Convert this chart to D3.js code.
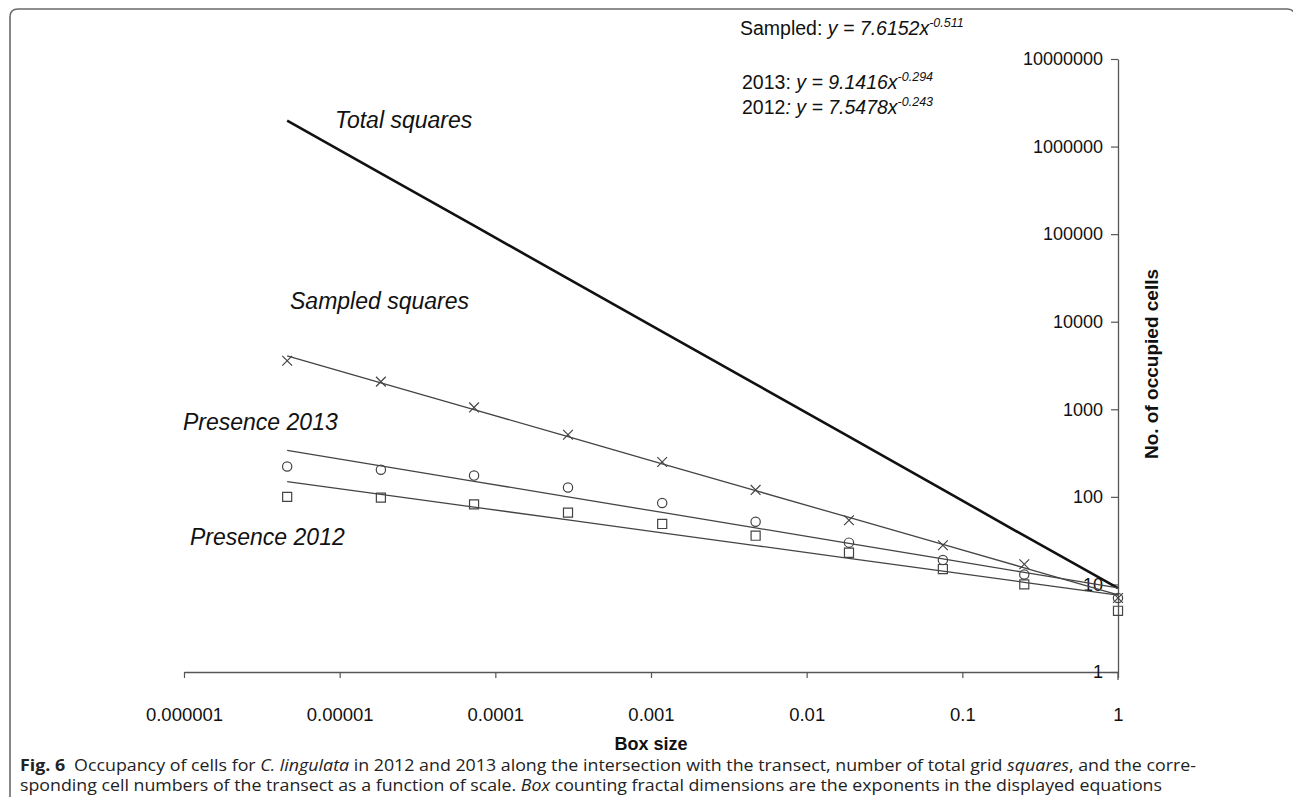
<!DOCTYPE html>
<html>
<head>
<meta charset="utf-8">
<script src="https://cdn.jsdelivr.net/npm/d3@7"></script>
<style>
  html, body { margin: 0; padding: 0; background: #fff; }
  svg { display: block; }
  .chart-text { font-family: "Liberation Sans", Arial, Helvetica, sans-serif; fill: #111; }
  .caption { font-family: "Open Sans", "Noto Sans", sans-serif; fill: #222; font-size: 15.5px; }
</style>
</head>
<body>
<svg id="fig" width="1293" height="797"></svg>
<script>
// Box sizes (fraction of transect) and cell counts at each scale
const boxSizes = [4.6e-6, 1.84e-5, 7.3e-5, 2.93e-4, 1.18e-3, 4.7e-3, 0.0187, 0.075, 0.25, 1];
const totalSquares = [1980000, 495000, 125000, 31000, 7700, 1940, 487, 121, 36, 9.1];
const sampledSquares = [3580, 2070, 1050, 512, 250, 120, 54, 28, 17, 7];
const presence2013 = [222, 204, 175, 128, 85, 52, 30, 19, 13, 7];
const presence2012 = [100, 98, 82, 66, 49, 36, 23, 15, 10, 5];

// Power-law fits y = a * x^b
const fitNames = ["Sampled", "2013", "2012"];
const fitCoef = [7.6152, 9.1416, 7.5478];
const fitExp = [-0.511, -0.294, -0.243];

const xTickValues = [1e-6, 1e-5, 1e-4, 1e-3, 1e-2, 1e-1, 1];
const xTickLabels = ["0.000001", "0.00001", "0.0001", "0.001", "0.01", "0.1", "1"];
const yTickValues = [1, 10, 100, 1000, 10000, 100000, 1000000, 10000000];
const yTickLabels = ["1", "10", "100", "1000", "10000", "100000", "1000000", "10000000"];

const svg = d3.select("#fig");

// frame around the figure (rounded top-left corner)
svg.append("path")
  .attr("d", "M10,797 L10,17 Q10,9 18,9 L1287,9 Q1293,9 1295,14")
  .attr("fill", "none").attr("stroke", "#6a6a6a").attr("stroke-width", 1.6);

const x = d3.scaleLog().domain([1e-6, 1]).range([184, 1118]);
const y = d3.scaleLog().domain([1, 1e7]).range([672, 59]);

const plot = svg.append("g").attr("class", "chart-text");

// x axis
const xAxis = d3.axisBottom(x)
  .tickValues(xTickValues)
  .tickFormat((d, i) => xTickLabels[i])
  .tickSizeInner(6).tickSizeOuter(0).tickPadding(30);
const gx = plot.append("g").attr("transform", `translate(0,${y(1)})`).call(xAxis);
gx.select(".domain").attr("stroke", "#555").attr("stroke-width", 1.3);
gx.selectAll(".tick line").attr("stroke", "#555").attr("stroke-width", 1.2);
gx.selectAll(".tick text").attr("font-size", 18.5).attr("font-family", "Liberation Sans, Arial, sans-serif").attr("fill", "#111");

// y axis on the right edge of the plot, ticks pointing left
const yAxis = d3.axisLeft(y)
  .tickValues(yTickValues)
  .tickFormat((d, i) => yTickLabels[i])
  .tickSizeInner(7).tickSizeOuter(0).tickPadding(8);
const gy = plot.append("g").attr("transform", `translate(${x(1)},0)`).call(yAxis);
gy.select(".domain").attr("stroke", "#555").attr("stroke-width", 1.3);
gy.selectAll(".tick line").attr("stroke", "#555").attr("stroke-width", 1.2);
gy.selectAll(".tick text").attr("font-size", 18).attr("font-family", "Liberation Sans, Arial, sans-serif").attr("fill", "#111");
// axis line continues a little below the x axis
plot.append("line").attr("x1", x(1)).attr("x2", x(1)).attr("y1", y(1)).attr("y2", y(1) + 8)
  .attr("stroke", "#555").attr("stroke-width", 1.3);

// axis titles
plot.append("text").attr("x", (x(1e-6) + x(1)) / 2).attr("y", 750)
  .attr("text-anchor", "middle").attr("font-size", 18).attr("font-weight", "bold").text("Box size");
plot.append("text").attr("transform", `translate(1158,364) rotate(-90)`)
  .attr("text-anchor", "middle").attr("font-size", 19).attr("font-weight", "bold").text("No. of occupied cells");

const line = d3.line().x(d => x(d[0])).y(d => y(d[1]));

// total grid squares
plot.append("path")
  .datum(boxSizes.map((b, i) => [b, totalSquares[i]]))
  .attr("d", line).attr("fill", "none").attr("stroke", "#111").attr("stroke-width", 2.6);

// fitted power-law trend lines
fitCoef.forEach((a, k) => {
  const pts = boxSizes.map(b => [b, a * Math.pow(b, fitExp[k])]);
  plot.append("path").datum(pts).attr("d", line)
    .attr("fill", "none").attr("stroke", "#444").attr("stroke-width", 1.3);
});

// markers
const markerStroke = "#444";
const sym = {
  cross: d3.symbol().type(d3.symbolX).size(64),
  circle: d3.symbol().type(d3.symbolCircle).size(68),
  square: d3.symbol().type(d3.symbolSquare).size(82)
};
function drawMarkers(values, gen) {
  plot.append("g").selectAll("path")
    .data(boxSizes.map((b, i) => [b, values[i]]))
    .join("path")
    .attr("transform", d => `translate(${x(d[0])},${y(d[1])})`)
    .attr("d", gen)
    .attr("fill", "none").attr("stroke", markerStroke).attr("stroke-width", 1.2);
}
drawMarkers(sampledSquares, sym.cross);
drawMarkers(presence2013, sym.circle);
drawMarkers(presence2012, sym.square);

// series labels
const labels = [
  { t: "Total squares", x: 335, y: 128 },
  { t: "Sampled squares", x: 290, y: 309 },
  { t: "Presence 2013", x: 183, y: 430 },
  { t: "Presence 2012", x: 190, y: 545 }
];
plot.append("g").selectAll("text").data(labels).join("text")
  .attr("x", d => d.x).attr("y", d => d.y)
  .attr("font-size", 23).attr("font-style", "italic").text(d => d.t);

// fitted equations
const eqPos = [{ x: 740, y: 35 }, { x: 742, y: 89 }, { x: 742, y: 114 }];
fitNames.forEach((name, k) => {
  const t = plot.append("text").attr("x", eqPos[k].x).attr("y", eqPos[k].y).attr("font-size", 19.5);
  t.append("tspan").text(name + (k === 2 ? "" : ": "));
  if (k === 2) t.append("tspan").attr("font-style", "italic").text(": ");
  t.append("tspan").attr("font-style", "italic").text("y = " + fitCoef[k].toFixed(4) + "x");
  t.append("tspan").attr("font-style", "italic").attr("font-size", 12.5).attr("dy", -8)
    .text(fitExp[k].toFixed(3));
});

// caption
const cap = svg.append("g").attr("class", "caption");
const c1 = cap.append("text").attr("x", 20).attr("y", 771)
  .attr("textLength", 1176).attr("lengthAdjust", "spacingAndGlyphs");
c1.append("tspan").attr("font-weight", "bold").text("Fig. 6");
c1.append("tspan").text("\u2002Occupancy of cells for ");
c1.append("tspan").attr("font-style", "italic").text("C. lingulata");
c1.append("tspan").text(" in 2012 and 2013 along the intersection with the transect, number of total grid ");
c1.append("tspan").attr("font-style", "italic").text("squares");
c1.append("tspan").text(", and the corre-");
const c2 = cap.append("text").attr("x", 20).attr("y", 791)
  .attr("textLength", 1142).attr("lengthAdjust", "spacingAndGlyphs");
c2.append("tspan").text("sponding cell numbers of the transect as a function of scale. ");
c2.append("tspan").attr("font-style", "italic").text("Box");
c2.append("tspan").text(" counting fractal dimensions are the exponents in the displayed equations");
</script>
</body>
</html>
